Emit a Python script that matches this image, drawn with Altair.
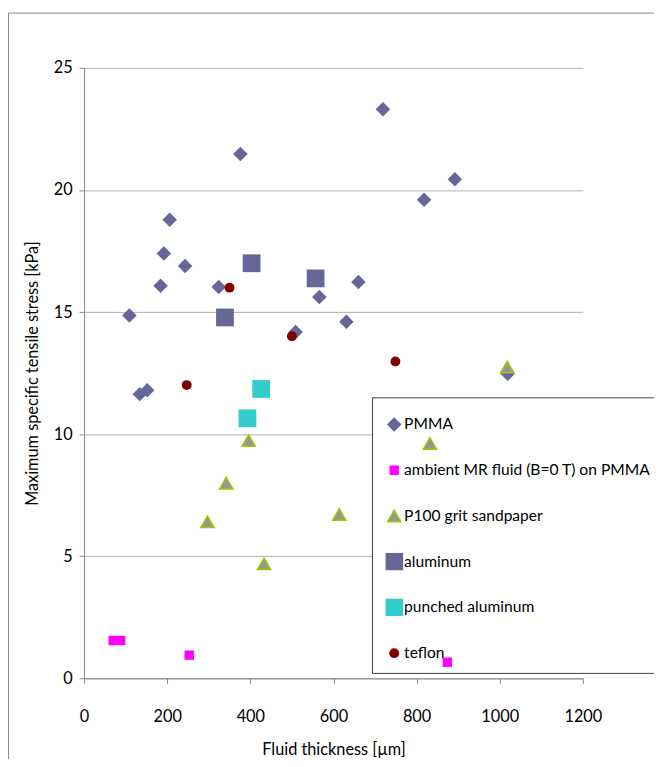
import altair as alt
import pandas as pd

series_names = ["PMMA", "ambient MR fluid (B=0 T) on PMMA", "P100 grit sandpaper",
                "aluminum", "punched aluminum", "teflon"]

pmma_x = [376, 206, 192, 243, 184, 324, 660, 566, 109, 631, 509, 134, 152, 719, 892, 818, 1019]
pmma_y = [21.47, 18.78, 17.40, 16.89, 16.08, 16.03, 16.23, 15.62, 14.86, 14.60, 14.18, 11.64, 11.80,
          23.31, 20.44, 19.60, 12.47]
ambient_x = [70, 88, 253, 874]
ambient_y = [1.55, 1.55, 0.95, 0.66]
p100_x = [1018, 396, 342, 297, 614, 433, 832]
p100_y = [12.75, 9.74, 7.99, 6.41, 6.71, 4.69, 9.62]
alu_x = [403, 557, 339]
alu_y = [17.0, 16.38, 14.78]
punched_x = [426, 393]
punched_y = [11.85, 10.65]
teflon_x = [350, 500, 247, 749]
teflon_y = [16.0, 14.01, 12.01, 12.98]

x_ticks = [0, 200, 400, 600, 800, 1000, 1200]
y_ticks = [0, 5, 10, 15, 20, 25]

fills = ["#666699", "#FF00FF", "#969696", "#666699", "#33CCCC", "#800000"]
strokes = ["#666699", "#FF00FF", "#99CC00", "#666699", "#33CCCC", "#800000"]
stroke_widths = [0, 0, 1.5, 0, 0, 0]
shapes = ["diamond", "square", "triangle-up", "square", "square", "circle"]
sizes = [215, 90, 182, 324, 324, 100]

rows = []
for name, xs, ys in zip(series_names,
                        [pmma_x, ambient_x, p100_x, alu_x, punched_x, teflon_x],
                        [pmma_y, ambient_y, p100_y, alu_y, punched_y, teflon_y]):
    for xv, yv in zip(xs, ys):
        rows.append({"x": xv, "y": yv, "series": name})
df = pd.DataFrame(rows)

FONT = "Lato"
FS = 16.5

points = alt.Chart(df).mark_point(filled=True, opacity=1).encode(
    x=alt.X("x:Q", scale=alt.Scale(domain=[0, 1200], nice=False),
            axis=alt.Axis(title="Fluid thickness [µm]", values=x_ticks, grid=False, format="d",
                          labelFlush=False, labelPadding=26, titlePadding=17)),
    y=alt.Y("y:Q", scale=alt.Scale(domain=[0, 25], nice=False),
            axis=alt.Axis(title="Maximum specific tensile stress [kPa]", values=y_ticks,
                          labelFlush=False, grid=True, labelPadding=7, titlePadding=13)),
    shape=alt.Shape("series:N", sort=series_names,
                    scale=alt.Scale(domain=series_names, range=shapes),
                    legend=alt.Legend(title=None, orient="none", legendX=297, legendY=344,
                                      padding=8, clipHeight=18, rowPadding=28.3,
                                      labelOffset=1, labelLimit=400)),
    fill=alt.Fill("series:N", sort=series_names,
                  scale=alt.Scale(domain=series_names, range=fills)),
    stroke=alt.Stroke("series:N", sort=series_names,
                      scale=alt.Scale(domain=series_names, range=strokes)),
    strokeWidth=alt.StrokeWidth("series:N", sort=series_names,
                                scale=alt.Scale(type="ordinal", domain=series_names,
                                                range=stroke_widths)),
    size=alt.Size("series:N", sort=series_names,
                  scale=alt.Scale(type="ordinal", domain=series_names, range=sizes)),
)

frame_data = alt.Data(values=[{"k": 1}])
legend_box = alt.Chart(frame_data).mark_rect(fill="white", stroke="#404040", strokeWidth=1).encode(
    x=alt.value(292), x2=alt.value(720), y=alt.value(334), y2=alt.value(613)
)
border_left = alt.Chart(frame_data).mark_rule(color="#868686", strokeWidth=1).encode(
    x=alt.value(-76.5), y=alt.value(-55.5), y2=alt.value(720)
)
border_top = alt.Chart(frame_data).mark_rule(color="#868686", strokeWidth=1).encode(
    x=alt.value(-76.5), x2=alt.value(700), y=alt.value(-55.5)
)

chart = alt.layer(border_left, border_top, legend_box, points).properties(
    width=505, height=618,
    padding={"left": 77, "top": 56, "right": 72, "bottom": 77},
    autosize=alt.AutoSizeParams(type="none"),
).configure_view(stroke=None).configure_axis(
    labelFont=FONT, labelFontSize=FS, labelColor="#000000",
    titleFont=FONT, titleFontSize=FS, titleColor="#000000", titleFontWeight="normal",
    domainColor="#868686", tickColor="#868686", tickSize=5,
    gridColor="#B0B0B0", gridWidth=1,
).configure_legend(
    labelFont=FONT, labelFontSize=15.8, labelColor="#000000",
)

chart.save("out.html", embed_options={"renderer": "svg", "actions": False})
